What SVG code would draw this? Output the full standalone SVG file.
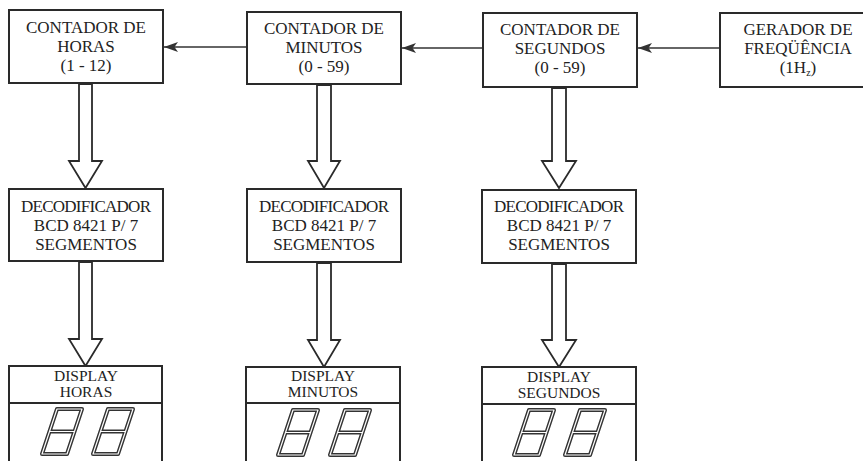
<svg xmlns="http://www.w3.org/2000/svg" width="863" height="461" viewBox="0 0 863 461">
<style>
.box{fill:#fff;stroke:#2a2a2a;stroke-width:2}
.t{font-family:"Liberation Serif","Times New Roman",serif;font-size:17px;fill:#222;text-anchor:middle}
.td{font-family:"Liberation Serif","Times New Roman",serif;font-size:15.5px;fill:#222;text-anchor:middle}
.conn{stroke:#333;stroke-width:1.6;fill:none}
.hollow{fill:#fff;stroke:#2a2a2a;stroke-width:1.8;stroke-linejoin:miter}
.seg{fill:none;stroke:#333;stroke-width:4;stroke-linejoin:round}
.segi{fill:none;stroke:#fff;stroke-width:1.2;stroke-linejoin:round}
</style>
<defs>
<marker id="ah" viewBox="0 0 14 10" refX="14" refY="5" markerWidth="14" markerHeight="10" markerUnits="userSpaceOnUse" orient="auto">
<path d="M0,0 L14,5 L0,10 L3.5,5 Z" fill="#333"/>
</marker>
<g id="digit">
<path class="seg" d="M16,0 L41,0 L33.5,22.5 L8.5,22.5 Z M8.5,22.5 L33.5,22.5 L26,45 L1,45 Z"/>
<path class="segi" d="M16,0 L41,0 L33.5,22.5 L8.5,22.5 Z M8.5,22.5 L33.5,22.5 L26,45 L1,45 Z"/>
</g>
</defs>
<rect width="863" height="461" fill="#fff"/>

<g id="connectors">
<line class="conn" x1="720" y1="48" x2="638" y2="48" marker-end="url(#ah)"/>
<line class="conn" x1="483" y1="48" x2="402" y2="48" marker-end="url(#ah)"/>
<line class="conn" x1="247" y1="47" x2="164" y2="47" marker-end="url(#ah)"/>
<polygon class="hollow" points="79,84 92,84 92,161 102,161 85.5,188 69,161 79,161"/>
<polygon class="hollow" points="317,85 331,85 331,161 340,161 324,188 308,161 317,161"/>
<polygon class="hollow" points="552,88 566,88 566,161 576,161 559,188 542,161 552,161"/>
<polygon class="hollow" points="79,262 92,262 92,339 102,339 85.5,366 69,339 79,339"/>
<polygon class="hollow" points="317,263 331,263 331,340 340,340 324,367 308,340 317,340"/>
<polygon class="hollow" points="552,264 566,264 566,340 576,340 559,367 542,340 552,340"/>
</g>

<g id="contador-horas">
<rect class="box" x="9" y="10" width="154" height="73"/>
<text class="t" x="86" y="33">CONTADOR DE</text>
<text class="t" x="86" y="52">HORAS</text>
<text class="t" x="86" y="71">(1 - 12)</text>
</g>
<g id="contador-minutos">
<rect class="box" x="247" y="12" width="154" height="72"/>
<text class="t" x="324" y="34">CONTADOR DE</text>
<text class="t" x="324" y="53">MINUTOS</text>
<text class="t" x="324" y="72">(0 - 59)</text>
</g>
<g id="contador-segundos">
<rect class="box" x="483" y="13" width="154" height="74"/>
<text class="t" x="560" y="35">CONTADOR DE</text>
<text class="t" x="560" y="54">SEGUNDOS</text>
<text class="t" x="560" y="73">(0 - 59)</text>
</g>
<g id="gerador">
<rect class="box" x="720" y="13" width="156" height="74"/>
<text class="t" x="798" y="35">GERADOR DE</text>
<text class="t" x="798" y="54">FREQÜÊNCIA</text>
<text class="t" x="798" y="73">(1H<tspan font-size="10" dy="3">z</tspan><tspan dy="-3">)</tspan></text>
</g>

<g id="decod-horas">
<rect class="box" x="9" y="189" width="154" height="72"/>
<text class="t" x="86" y="212" textLength="130" lengthAdjust="spacing">DECODIFICADOR</text>
<text class="t" x="86" y="231">BCD 8421 P/ 7</text>
<text class="t" x="86" y="250">SEGMENTOS</text>
</g>
<g id="decod-minutos">
<rect class="box" x="247" y="189" width="154" height="73"/>
<text class="t" x="324" y="212" textLength="130" lengthAdjust="spacing">DECODIFICADOR</text>
<text class="t" x="324" y="231">BCD 8421 P/ 7</text>
<text class="t" x="324" y="250">SEGMENTOS</text>
</g>
<g id="decod-segundos">
<rect class="box" x="482" y="190" width="154" height="73"/>
<text class="t" x="559" y="212" textLength="130" lengthAdjust="spacing">DECODIFICADOR</text>
<text class="t" x="559" y="231">BCD 8421 P/ 7</text>
<text class="t" x="559" y="250">SEGMENTOS</text>
</g>

<g id="display-horas">
<rect class="box" x="9" y="366" width="153" height="110"/>
<line class="box" x1="9" y1="403" x2="162" y2="403"/>
<text class="td" x="86" y="381">DISPLAY</text>
<text class="td" x="86" y="397">HORAS</text>
<use href="#digit" x="41" y="409"/>
<use href="#digit" x="92" y="409"/>
</g>
<g id="display-minutos">
<rect class="box" x="246" y="367" width="154" height="110"/>
<line class="box" x1="246" y1="403" x2="400" y2="403"/>
<text class="td" x="323" y="381">DISPLAY</text>
<text class="td" x="323" y="397">MINUTOS</text>
<use href="#digit" x="277" y="410"/>
<use href="#digit" x="329" y="410"/>
</g>
<g id="display-segundos">
<rect class="box" x="482" y="367" width="154" height="110"/>
<line class="box" x1="482" y1="404" x2="636" y2="404"/>
<text class="td" x="559" y="382">DISPLAY</text>
<text class="td" x="559" y="398">SEGUNDOS</text>
<use href="#digit" x="513" y="410"/>
<use href="#digit" x="564" y="410"/>
</g>
</svg>
